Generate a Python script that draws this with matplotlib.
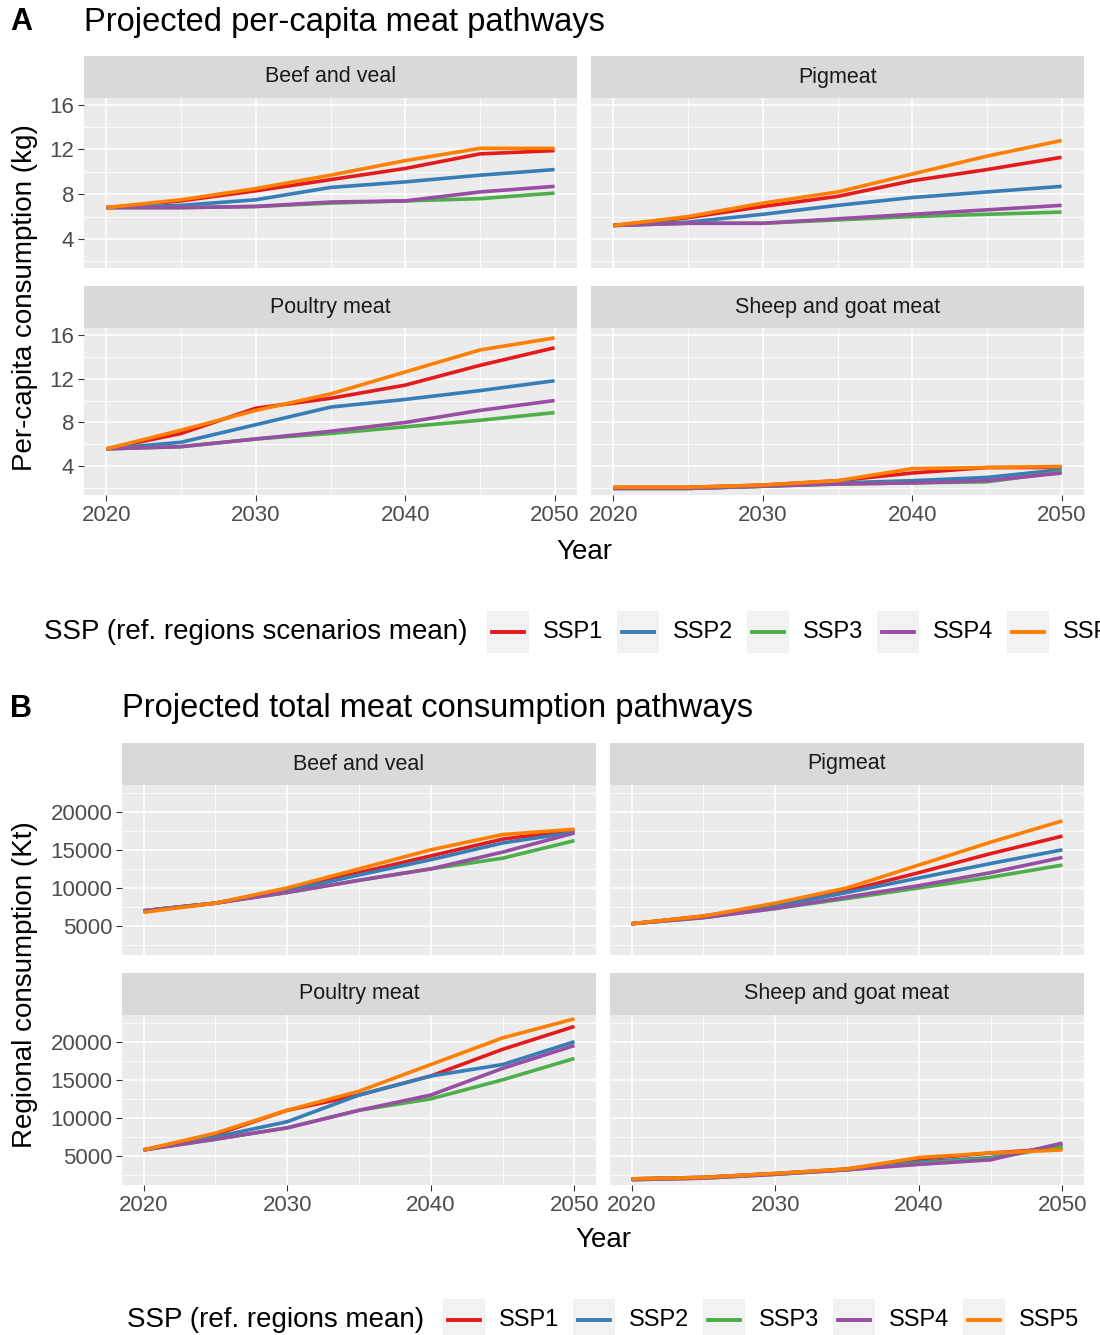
import matplotlib
matplotlib.use("Agg")
import matplotlib.pyplot as plt
from matplotlib.lines import Line2D
from matplotlib.patches import Rectangle

plt.rcParams['font.family'] = ['Liberation Sans', 'DejaVu Sans']

years = [2020, 2025, 2030, 2035, 2040, 2045, 2050]
ssps = ["SSP1", "SSP2", "SSP3", "SSP4", "SSP5"]
colors = {"SSP1": "#E41A1C", "SSP2": "#377EB8", "SSP3": "#4DAF4A", "SSP4": "#984EA3", "SSP5": "#FF7F00"}
meats = ["Beef and veal", "Pigmeat", "Poultry meat", "Sheep and goat meat"]

percap = {
    "Beef and veal": {
        "SSP1": [6.8, 7.4, 8.3, 9.3, 10.3, 11.6, 11.9],
        "SSP2": [6.8, 7.0, 7.5, 8.6, 9.1, 9.7, 10.2],
        "SSP3": [6.8, 6.8, 6.9, 7.2, 7.4, 7.6, 8.1],
        "SSP4": [6.8, 6.8, 6.9, 7.3, 7.4, 8.2, 8.7],
        "SSP5": [6.8, 7.5, 8.5, 9.7, 11.0, 12.1, 12.1]},
    "Pigmeat": {
        "SSP1": [5.2, 5.9, 6.9, 7.8, 9.2, 10.2, 11.3],
        "SSP2": [5.2, 5.5, 6.2, 7.0, 7.7, 8.2, 8.7],
        "SSP3": [5.2, 5.4, 5.4, 5.7, 6.0, 6.2, 6.4],
        "SSP4": [5.2, 5.4, 5.4, 5.8, 6.2, 6.6, 7.0],
        "SSP5": [5.2, 6.0, 7.2, 8.2, 9.8, 11.4, 12.8]},
    "Poultry meat": {
        "SSP1": [5.6, 7.0, 9.3, 10.2, 11.4, 13.2, 14.8],
        "SSP2": [5.6, 6.2, 7.8, 9.4, 10.1, 10.9, 11.8],
        "SSP3": [5.6, 5.8, 6.5, 7.0, 7.6, 8.2, 8.9],
        "SSP4": [5.6, 5.8, 6.5, 7.2, 8.0, 9.1, 10.0],
        "SSP5": [5.6, 7.3, 9.1, 10.6, 12.6, 14.6, 15.7]},
    "Sheep and goat meat": {
        "SSP1": [2.1, 2.1, 2.3, 2.7, 3.4, 3.9, 3.9],
        "SSP2": [2.0, 2.0, 2.2, 2.5, 2.7, 3.0, 3.7],
        "SSP3": [2.0, 2.0, 2.2, 2.4, 2.5, 2.6, 3.5],
        "SSP4": [2.0, 2.0, 2.2, 2.4, 2.5, 2.7, 3.4],
        "SSP5": [2.1, 2.1, 2.3, 2.7, 3.8, 3.9, 4.0]},
}

total = {
    "Beef and veal": {
        "SSP1": [7000, 8000, 9800, 12000, 14200, 16400, 17600],
        "SSP2": [7000, 8000, 9600, 11700, 13700, 15900, 17300],
        "SSP3": [7000, 8000, 9400, 11000, 12500, 13900, 16200],
        "SSP4": [7000, 8000, 9400, 11000, 12500, 14700, 17200],
        "SSP5": [6800, 8000, 10000, 12500, 15000, 17000, 17700]},
    "Pigmeat": {
        "SSP1": [5300, 6300, 7800, 9600, 12000, 14500, 16800],
        "SSP2": [5300, 6200, 7600, 9400, 11300, 13200, 15000],
        "SSP3": [5300, 6100, 7300, 8600, 10000, 11400, 13000],
        "SSP4": [5300, 6100, 7300, 8800, 10300, 12000, 14000],
        "SSP5": [5300, 6300, 8000, 10000, 13000, 16000, 18800]},
    "Poultry meat": {
        "SSP1": [5800, 7800, 11000, 13000, 15500, 19000, 22000],
        "SSP2": [5800, 7500, 9500, 13000, 15500, 17000, 20000],
        "SSP3": [5800, 7200, 8700, 11000, 12500, 15000, 17800],
        "SSP4": [5800, 7200, 8700, 11000, 13000, 16500, 19500],
        "SSP5": [5800, 8000, 11000, 13500, 17000, 20500, 23000]},
    "Sheep and goat meat": {
        "SSP1": [2000, 2200, 2700, 3300, 4600, 5400, 6000],
        "SSP2": [2000, 2200, 2700, 3200, 4200, 4800, 6500],
        "SSP3": [1900, 2100, 2600, 3200, 4000, 4700, 6300],
        "SSP4": [1900, 2100, 2600, 3200, 3900, 4500, 6700],
        "SSP5": [2000, 2200, 2700, 3300, 4800, 5400, 5800]},
}

W, H = 1100, 1335
fig = plt.figure(figsize=(W / 100, H / 100), dpi=100)

def rect(x0, y0, x1, y1):
    return [x0 / W, 1 - y1 / H, (x1 - x0) / W, (y1 - y0) / H]

def fx(x):
    return x / W

def fy(y):
    return 1 - y / H

TICKC = "#4D4D4D"

def facet(box_strip, box_panel, title, data, ylim, yticks, yminor, left, bottom):
    s = fig.add_axes(rect(*box_strip))
    s.set_facecolor("#D9D9D9")
    s.set_xticks([]); s.set_yticks([])
    for sp in s.spines.values():
        sp.set_visible(False)
    s.text(0.5, 0.5, title, ha="center", va="center", fontsize=15.5, color="#1A1A1A", transform=s.transAxes)
    ax = fig.add_axes(rect(*box_panel))
    ax.set_facecolor("#EBEBEB")
    for sp in ax.spines.values():
        sp.set_visible(False)
    ax.set_xlim(2018.5, 2051.5)
    ax.set_ylim(*ylim)
    ax.set_xticks([2020, 2030, 2040, 2050])
    ax.set_xticks([2025, 2035, 2045], minor=True)
    ax.set_yticks(yticks)
    ax.set_yticks(yminor, minor=True)
    ax.grid(True, which="major", color="white", lw=1.2)
    ax.grid(True, which="minor", color="white", lw=0.6)
    ax.set_axisbelow(True)
    ax.tick_params(which="major", color="#333333", length=4, labelsize=16, labelcolor=TICKC, pad=3)
    ax.tick_params(which="minor", length=0)
    if not left:
        ax.tick_params(axis="y", which="major", length=0, labelleft=False)
    if not bottom:
        ax.tick_params(axis="x", which="major", length=0, labelbottom=False)
    for k in ssps:
        ax.plot(years, data[k], color=colors[k], lw=2.6, solid_capstyle="butt")
    return ax

def legend_row(y, title, tx, key_x):
    fig.text(fx(tx), fy(y), title, fontsize=20, va="center", ha="left", color="black")
    for i, k in enumerate(ssps):
        x0 = key_x[i]
        fig.patches.append(Rectangle((fx(x0), fy(y + 21)), 42 / W, 42 / H, transform=fig.transFigure,
                                     facecolor="#F2F2F2", edgecolor="none"))
        fig.lines.append(Line2D([fx(x0 + 5), fx(x0 + 37)], [fy(y), fy(y)], transform=fig.transFigure,
                                color=colors[k], lw=2.8))
        fig.text(fx(x0 + 56), fy(y), k, fontsize=17, va="center", ha="left")

# Panel A
colsA = [(84, 577), (591, 1084)]
rowsA = [((56, 98), (98, 268)), ((286, 328), (328, 495))]
for i, m in enumerate(meats):
    r, c = divmod(i, 2)
    (sy0, sy1), (py0, py1) = rowsA[r]
    x0, x1 = colsA[c]
    facet((x0, sy0, x1, sy1), (x0, py0, x1, py1), m, percap[m], (1.4, 16.6),
          [4, 8, 12, 16], [2, 6, 10, 14], c == 0, r == 1)

fig.text(fx(10), fy(22), "A", fontsize=22, fontweight="bold", va="center")
fig.text(fx(84), fy(22), "Projected per-capita meat pathways", fontsize=23.5, va="center")
fig.text(fx(25), fy(298), "Per-capita consumption (kg)", fontsize=20, rotation=90, va="center", ha="center")
fig.text(fx(584), fy(552), "Year", fontsize=20, va="center", ha="center")
legend_row(632, "SSP (ref. regions scenarios mean)", 44, [487, 617, 747, 877, 1007])

# Panel B
colsB = [(122, 596), (610, 1084)]
rowsB = [((743, 785), (785, 955)), ((973, 1015), (1015, 1185))]
for i, m in enumerate(meats):
    r, c = divmod(i, 2)
    (sy0, sy1), (py0, py1) = rowsB[r]
    x0, x1 = colsB[c]
    facet((x0, sy0, x1, sy1), (x0, py0, x1, py1), m, total[m], (1200, 23500),
          [5000, 10000, 15000, 20000], [2500, 7500, 12500, 17500, 22500], c == 0, r == 1)

fig.text(fx(10), fy(709), "B", fontsize=22, fontweight="bold", va="center")
fig.text(fx(122), fy(709), "Projected total meat consumption pathways", fontsize=23.5, va="center")
fig.text(fx(25), fy(985), "Regional consumption (Kt)", fontsize=20, rotation=90, va="center", ha="center")
fig.text(fx(603), fy(1240), "Year", fontsize=20, va="center", ha="center")
legend_row(1320, "SSP (ref. regions mean)", 127, [443, 573, 703, 833, 963])

fig.savefig("out.png", dpi=100)
